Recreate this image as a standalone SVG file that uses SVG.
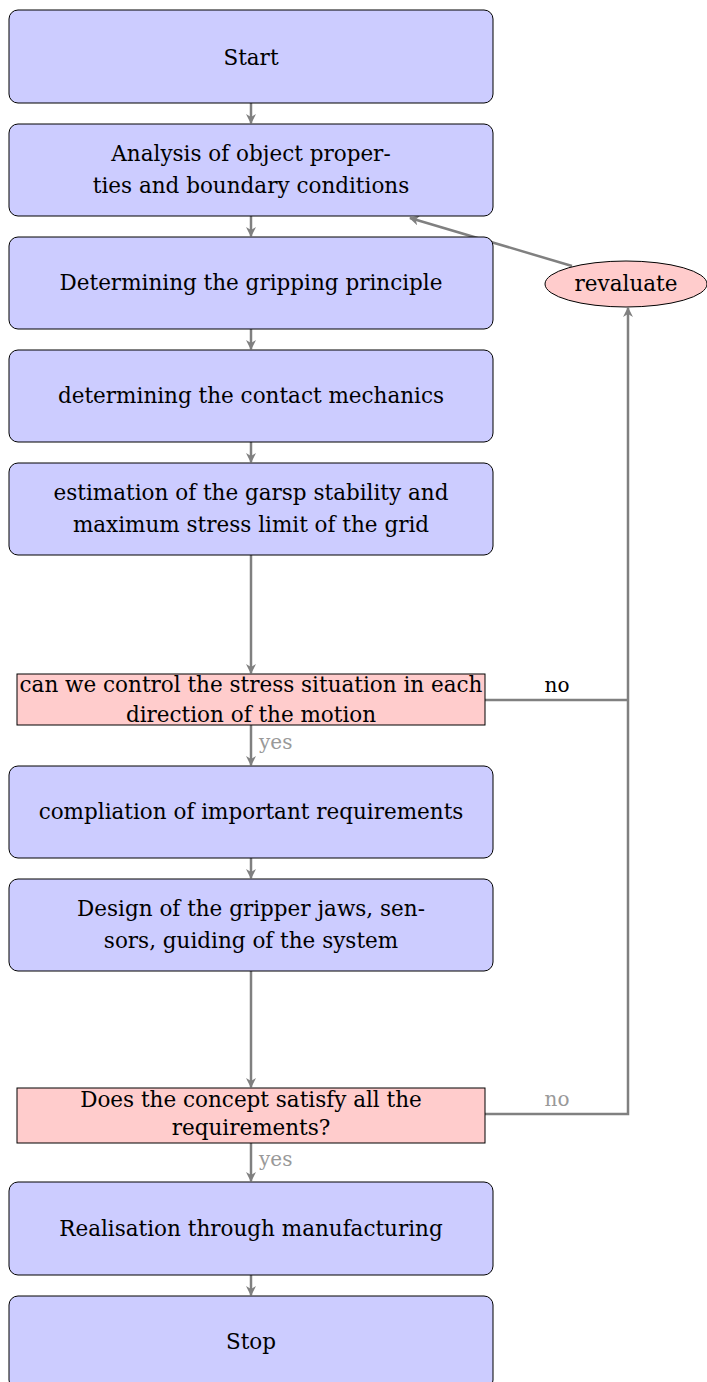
<svg xmlns="http://www.w3.org/2000/svg" width="707" height="1382" viewBox="0 0 707 1382">
<style>
.box{fill:#ccccff;stroke:#000;stroke-width:1}
.dec{fill:#ffcccc;stroke:#000;stroke-width:1}
.t{font-family:"DejaVu Serif","Liberation Serif",serif;font-size:21.5px;fill:#000;text-anchor:middle}
.c{fill:none;stroke:#808080;stroke-width:2.5}
.lg{font-family:"DejaVu Serif",serif;font-size:20px;fill:#999}
.lb{font-family:"DejaVu Serif",serif;font-size:20px;fill:#000}
</style>
<defs>
<marker id="ah" viewBox="0 0 10 10" refX="9" refY="5" markerWidth="4" markerHeight="4" orient="auto" markerUnits="strokeWidth">
<path d="M0,0 L10,5 L0,10 L3,5 z" fill="#808080"/>
</marker>
</defs>
<g id="connectors">
<line class="c" x1="251" y1="103" x2="251" y2="123" marker-end="url(#ah)"/>
<line class="c" x1="251" y1="216" x2="251" y2="236" marker-end="url(#ah)"/>
<line class="c" x1="251" y1="329" x2="251" y2="349" marker-end="url(#ah)"/>
<line class="c" x1="251" y1="442" x2="251" y2="462" marker-end="url(#ah)"/>
<line class="c" x1="251" y1="555" x2="251" y2="673" marker-end="url(#ah)"/>
<line class="c" x1="251" y1="725" x2="251" y2="765" marker-end="url(#ah)"/>
<line class="c" x1="251" y1="858" x2="251" y2="878" marker-end="url(#ah)"/>
<line class="c" x1="251" y1="971" x2="251" y2="1087" marker-end="url(#ah)"/>
<line class="c" x1="251" y1="1143" x2="251" y2="1181" marker-end="url(#ah)"/>
<line class="c" x1="251" y1="1275" x2="251" y2="1295" marker-end="url(#ah)"/>
<polyline class="c" points="485,700 628,700"/>
<polyline class="c" points="485,1114 628,1114 628,308" marker-end="url(#ah)"/>
<line class="c" x1="572" y1="266" x2="410" y2="218" marker-end="url(#ah)"/>
<text class="lg" x="259" y="749">yes</text>
<text class="lb" x="557" y="692" text-anchor="middle">no</text>
<text class="lg" x="259" y="1166">yes</text>
<text class="lg" x="557" y="1106" text-anchor="middle">no</text>
</g>
<g id="start"><rect class="box" x="9" y="10" width="484" height="93" rx="9"/><text class="t" x="251" y="65">Start</text></g>
<g id="analysis"><rect class="box" x="9" y="124" width="484" height="92" rx="9"/><text class="t" x="251" y="161">Analysis of object proper-</text><text class="t" x="251" y="193">ties and boundary conditions</text></g>
<g id="principle"><rect class="box" x="9" y="237" width="484" height="92" rx="9"/><text class="t" x="251" y="290">Determining the gripping principle</text></g>
<g id="contact"><rect class="box" x="9" y="350" width="484" height="92" rx="9"/><text class="t" x="251" y="403">determining the contact mechanics</text></g>
<g id="estimation"><rect class="box" x="9" y="463" width="484" height="92" rx="9"/><text class="t" x="251" y="500">estimation of the garsp stability and</text><text class="t" x="251" y="532">maximum stress limit of the grid</text></g>
<g id="decision1"><rect class="dec" x="17" y="674" width="468" height="51"/><text class="t" x="251" y="692">can we control the stress situation in each</text><text class="t" x="251" y="722">direction of the motion</text></g>
<g id="requirements"><rect class="box" x="9" y="766" width="484" height="92" rx="9"/><text class="t" x="251" y="819">compliation of important requirements</text></g>
<g id="design"><rect class="box" x="9" y="879" width="484" height="92" rx="9"/><text class="t" x="251" y="916">Design of the gripper jaws, sen-</text><text class="t" x="251" y="948">sors, guiding of the system</text></g>
<g id="decision2"><rect class="dec" x="17" y="1088" width="468" height="55"/><text class="t" x="251" y="1107">Does the concept satisfy all the</text><text class="t" x="251" y="1135">requirements?</text></g>
<g id="realisation"><rect class="box" x="9" y="1182" width="484" height="93" rx="9"/><text class="t" x="251" y="1236">Realisation through manufacturing</text></g>
<g id="stop"><rect class="box" x="9" y="1296" width="484" height="93" rx="9"/><text class="t" x="251" y="1349">Stop</text></g>
<g id="revaluate"><ellipse class="dec" cx="626" cy="284" rx="81" ry="23"/><text class="t" x="626" y="291">revaluate</text></g>
</svg>
